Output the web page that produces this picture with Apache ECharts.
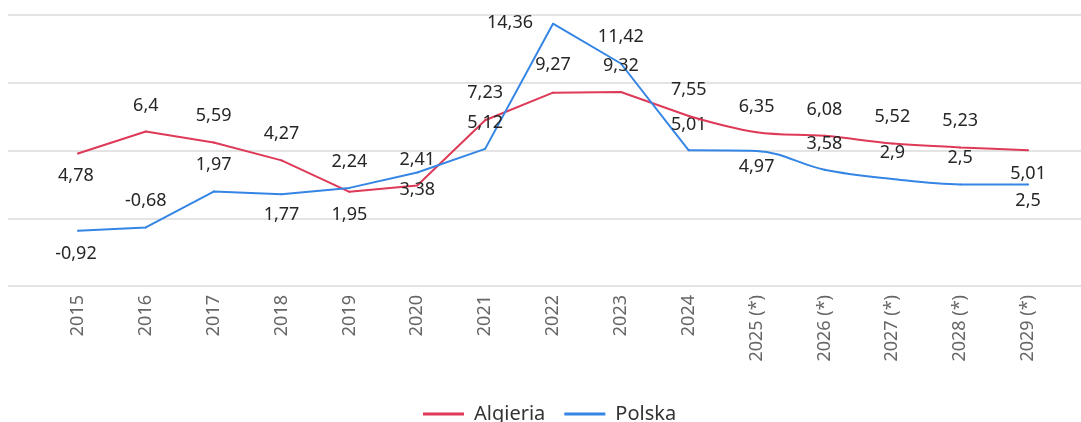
<!DOCTYPE html>
<html>
<head>
<meta charset="utf-8">
<script src="https://cdn.jsdelivr.net/npm/echarts@6/dist/echarts.min.js"></script>
<style>
  html, body { margin: 0; padding: 0; background: #fff; }
  #chart { width: 1081px; height: 422px; }
</style>
</head>
<body>
<div id="chart"></div>
<script>
var years = ['2015', '2016', '2017', '2018', '2019', '2020', '2021', '2022', '2023', '2024',
  '2025 (*)', '2026 (*)', '2027 (*)', '2028 (*)', '2029 (*)']
var algieria = [4.78, 6.4, 5.59, 4.27, 1.95, 2.41, 7.23, 9.27, 9.32, 7.55, 6.35, 6.08, 5.52, 5.23, 5.01]
var polska = [-0.92, -0.68, 1.97, 1.77, 2.24, 3.38, 5.12, 14.36, 11.42, 5.01, 4.97, 3.58, 2.9, 2.5, 2.5]
var yTicks = [-5, 0, 5, 10, 15]
var lastActual = 9 // 2024, forecast starts after

// where each value label sits relative to its point [dx, dy]
var algLabelOffset = [[-2, 22], [0, -26], [0, -27], [0, -27], [0, 23], [0, -26], [0, -27], [0, -28], [0, -26],
  [0, -26], [0, -25], [0, -26], [0, -27], [0, -27], [0, 24]]
var polLabelOffset = [[-2, 23], [0, -27], [0, -27], [0, 21], [0, -26], [0, 17], [0, -26], [-43, -1], [0, -27],
  [0, -25], [0, 16], [0, -26], [0, -26], [0, -27], [0, 16]]

var red = '#de3a58'
var blue = '#3585e5'
var font = 'Noto Sans'

function fmt(v) {
  return String(v).replace('.', ',')
}

function buildData(values, offsets, from, to, hideFirst) {
  return values.map(function(v, i) {
    if (i < from || i > to) return null
    return {
      value: v,
      label: {
        show: !(hideFirst && i === from),
        offset: offsets[i]
      }
    }
  })
}

function lineSeries(name, color, values, offsets, forecast) {
  return {
    name: name,
    type: 'line',
    xAxisIndex: 0,
    yAxisIndex: 0,
    smooth: forecast ? 0.35 : false,
    symbol: 'circle',
    symbolSize: 2,
    showSymbol: true,
    connectNulls: false,
    lineStyle: { color: color, width: 2 },
    itemStyle: { color: color },
    label: {
      show: true,
      position: 'inside',
      color: '#262626',
      fontFamily: font,
      fontSize: 18,
      formatter: function(p) { return fmt(p.value) }
    },
    emphasis: { disabled: true },
    z: forecast ? 3 : 2,
    data: forecast
      ? buildData(values, offsets, lastActual, values.length - 1, true)
      : buildData(values, offsets, 0, lastActual, false)
  }
}

var chart = echarts.init(document.getElementById('chart'))
chart.setOption({
  animation: false,
  backgroundColor: '#fff',
  grid: [
    { left: 44, right: 19, top: 15, height: 271 },
    { left: 8, right: 0, top: 15, height: 271 }
  ],
  legend: {
    left: 418,
    top: 399,
    icon: 'rect',
    itemWidth: 41,
    itemHeight: 3,
    itemGap: 19,
    textStyle: { color: '#333', fontFamily: font, fontSize: 20, padding: [0, 0, 0, 5] },
    data: [
      { name: 'Algieria', itemStyle: { color: red } },
      { name: 'Polska', itemStyle: { color: blue } }
    ]
  },
  xAxis: [{
    type: 'category',
    gridIndex: 0,
    data: years,
    boundaryGap: true,
    axisLine: { show: false },
    axisTick: { show: false },
    axisLabel: {
      rotate: 90,
      interval: 0,
      margin: 9,
      color: '#666',
      fontFamily: font,
      fontSize: 18
    }
  }, {
    type: 'value',
    gridIndex: 1,
    min: 0,
    max: 1,
    show: false
  }],
  yAxis: [{
    type: 'value',
    gridIndex: 0,
    min: yTicks[0],
    max: yTicks[yTicks.length - 1],
    interval: 5,
    show: false
  }, {
    type: 'value',
    gridIndex: 1,
    min: yTicks[0],
    max: yTicks[yTicks.length - 1],
    interval: 5,
    axisLine: { show: false },
    axisTick: { show: false },
    axisLabel: { show: false },
    splitLine: { show: true, lineStyle: { color: '#e4e4e4', width: 2 } }
  }],
  series: [
    lineSeries('Algieria', red, algieria, algLabelOffset, false),
    lineSeries('Algieria', red, algieria, algLabelOffset, true),
    lineSeries('Polska', blue, polska, polLabelOffset, false),
    lineSeries('Polska', blue, polska, polLabelOffset, true)
  ]
})
</script>
</body>
</html>
